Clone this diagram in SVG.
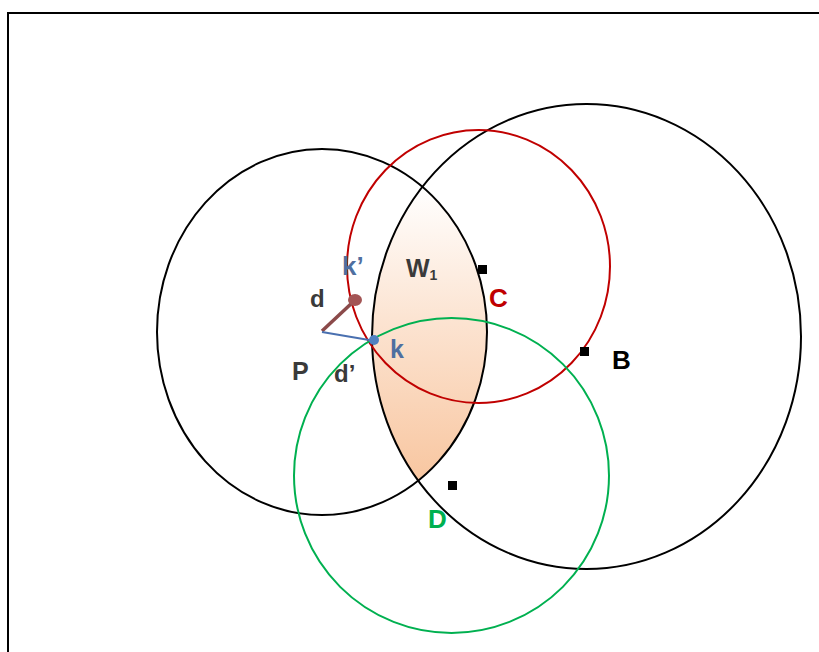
<svg xmlns="http://www.w3.org/2000/svg" width="819" height="652" viewBox="0 0 819 652">
<style>
.ring{fill:none;stroke-width:2}
.lbl{font-family:"Liberation Sans",Arial,sans-serif;font-weight:bold}
.sq{fill:#000}
</style>
<defs>
<linearGradient id="lensGrad" x1="0" y1="186" x2="0" y2="482" gradientUnits="userSpaceOnUse">
<stop offset="0" stop-color="#ffffff"/>
<stop offset="0.45" stop-color="#fce4d2"/>
<stop offset="1" stop-color="#f8c6a0"/>
</linearGradient>
<clipPath id="clipP"><ellipse cx="322" cy="332" rx="165" ry="183"/></clipPath>
</defs>
<rect x="8" y="13" width="830" height="660" fill="#fff" stroke="#000" stroke-width="2"/>
<g id="lens">
<ellipse cx="586.5" cy="336.5" rx="214.5" ry="232.5" fill="url(#lensGrad)" clip-path="url(#clipP)"/>
</g>
<g id="circles">
<ellipse id="circleP" class="ring" cx="322" cy="332" rx="165" ry="183" stroke="#000"/>
<ellipse id="circleB" class="ring" cx="586.5" cy="336.5" rx="214.5" ry="232.5" stroke="#000"/>
<ellipse id="circleC" class="ring" cx="478.5" cy="266.5" rx="131.5" ry="136.5" stroke="#c00000"/>
<circle id="circleD" class="ring" cx="451.5" cy="475.5" r="157.5" stroke="#00b050"/>
</g>
<g id="connectors">
<line x1="353" y1="302" x2="322" y2="331" stroke="#8b4a4a" stroke-width="3.5"/>
<line x1="322" y1="332" x2="375" y2="341" stroke="#4a70b0" stroke-width="2"/>
</g>
<g id="nodeKprime"><ellipse cx="355" cy="300" rx="7" ry="6" fill="#a35555"/></g>
<g id="nodeK"><circle cx="374" cy="340" r="5" fill="#5080c0"/></g>
<g id="nodeCpt"><rect class="sq" x="478" y="265" width="9" height="9"/></g>
<g id="nodeBpt"><rect class="sq" x="580" y="347" width="9" height="9"/></g>
<g id="nodeDpt"><rect class="sq" x="448" y="481" width="9" height="9"/></g>
<g id="labels">
<text class="lbl" x="342" y="275" font-size="26" fill="#4f6fa0">k’</text>
<text class="lbl" x="310" y="307" font-size="24" fill="#3a3a3a">d</text>
<text class="lbl" x="406" y="277" font-size="25" fill="#3a3a3a">W<tspan font-size="14" dy="3">1</tspan></text>
<text class="lbl" x="489" y="307" font-size="26" fill="#c00000">C</text>
<text class="lbl" x="390" y="358" font-size="25" fill="#4f6fa0">k</text>
<text class="lbl" x="292" y="380" font-size="25" fill="#3a3a3a">P</text>
<text class="lbl" x="334" y="382" font-size="24" fill="#3a3a3a">d’</text>
<text class="lbl" x="612" y="369" font-size="26" fill="#000">B</text>
<text class="lbl" x="428" y="528" font-size="26" fill="#00b050">D</text>
</g>
</svg>
